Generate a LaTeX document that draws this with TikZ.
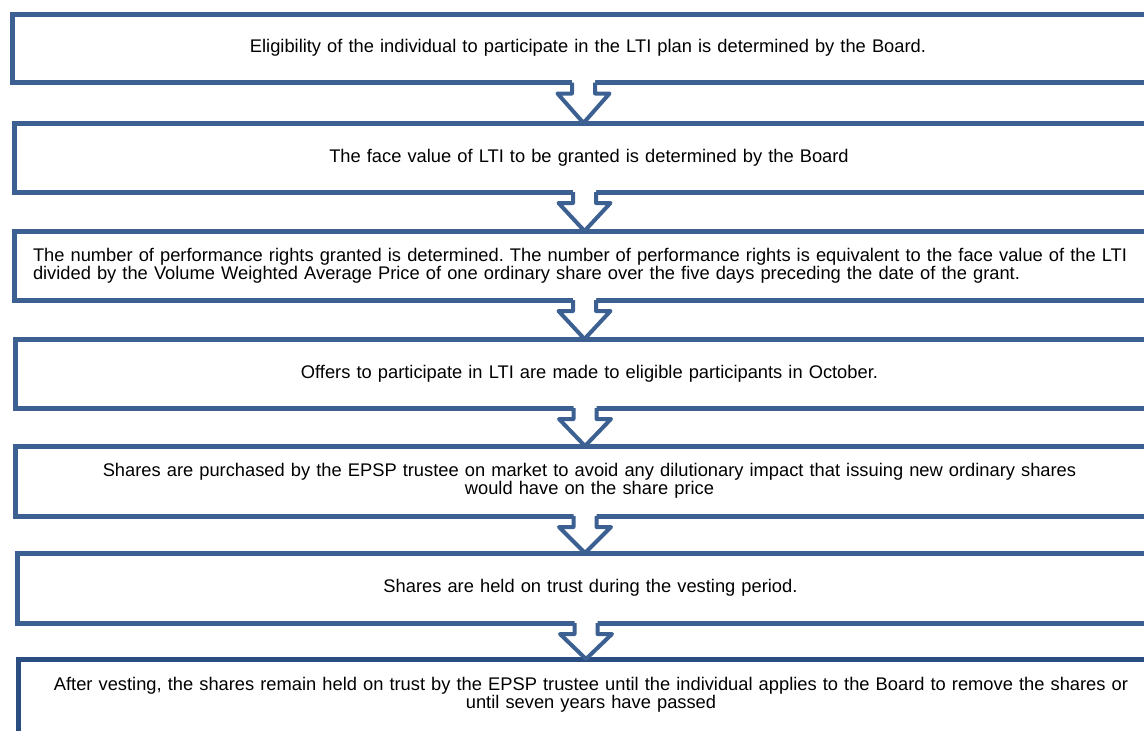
\documentclass[tikz,border=0pt]{standalone}
\usepackage{fontspec}
\setmainfont{Liberation Sans}
\usetikzlibrary{calc}

\definecolor{stepblue}{RGB}{60,96,145}
\definecolor{stepnavy}{RGB}{42,77,130}

\tikzset{
	stepbox/.style={draw=stepblue, line width=5pt, rectangle, outer sep=0pt, inner sep=0pt,
		minimum height=69pt, align=center, text width=1120pt,
		font=\fontsize{18.3}{18.4}\selectfont\frenchspacing},
	flowarrow/.style={draw=stepblue, line width=4pt, line join=round, line cap=butt},
}

\begin{document}
\begin{tikzpicture}[x=1pt,y=-1pt]
		\useasboundingbox (0,0) rectangle (1144,731);
		\clip (0,0) rectangle (1144,731);
		% the steps, right edges run off the page
		\node[stepbox, minimum width=1152pt, minimum height=68.5pt] (b1) at (588, 48.25)
			{Eligibility of the individual to participate in the LTI plan is determined by the Board.};
		\node[stepbox, minimum width=1150pt] (b2) at (589, 157.5)
			{The face value of LTI to be granted is determined by the Board};
		\node[stepbox, minimum width=1150pt, align=left, text width=1112pt] (b3) at (589, 265.5)
			{The number of performance rights granted is determined. The number of performance rights is equivalent to the face value of the LTI\\
			divided by the Volume Weighted Average Price of one ordinary share over the five days preceding the date of the grant.};
		\node[stepbox, minimum width=1149pt] (b4) at (589.5, 373.5)
			{Offers to participate in LTI are made to eligible participants in October.};
		\node[stepbox, minimum width=1149pt, minimum height=70pt] (b5) at (589.5, 481)
			{Shares are purchased by the EPSP trustee on market to avoid any dilutionary impact that issuing new ordinary shares\\
			would have on the share price};
		\node[stepbox, minimum width=1147pt, minimum height=70pt] (b6) at (590.5, 588)
			{Shares are held on trust during the vesting period.};
		\node[stepbox, draw=stepnavy, minimum width=1146pt, minimum height=90pt, text depth=41pt] (b7) at (591, 704)
			{After vesting, the shares remain held on trust by the EPSP trustee until the individual applies to the Board to remove the shares or\\
			until seven years have passed};
		% hollow arrows between the steps
		\foreach \a/\b in {b1/b2, b2/b3, b3/b4, b4/b5, b5/b6, b6/b7} {
			\path ($(\a.south)+(-4.5,0)$) coordinate (s) (s |- \b.north) coordinate (t);
			\fill[white] ($(s)+(-11.5,-3)$) -- ($(s)+(-11.5,11)$) -- ($(s)+(-26,11)$) -- (t)
				-- ($(s)+(26,11)$) -- ($(s)+(11.5,11)$) -- ($(s)+(11.5,-3)$) -- cycle;
			\draw[flowarrow] ($(s)+(-11.5,0)$) -- ($(s)+(-11.5,11)$) -- ($(s)+(-26,11)$) -- (t)
				-- ($(s)+(26,11)$) -- ($(s)+(11.5,11)$) -- ($(s)+(11.5,0)$);
		}
	\end{tikzpicture}
\end{document}
